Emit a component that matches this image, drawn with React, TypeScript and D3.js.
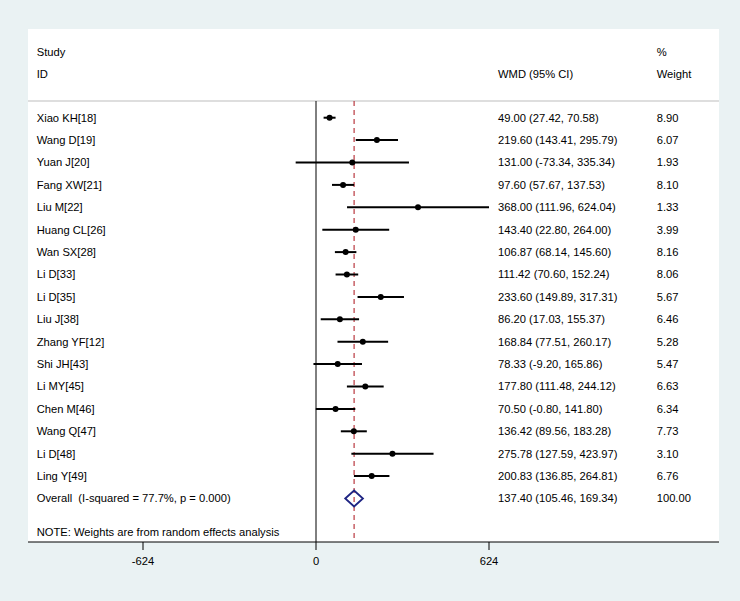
import React from "react";
import * as d3 from "d3";

const studies = ["Xiao KH[18]", "Wang D[19]", "Yuan J[20]", "Fang XW[21]", "Liu M[22]", "Huang CL[26]", "Wan SX[28]", "Li D[33]", "Li D[35]", "Liu J[38]", "Zhang YF[12]", "Shi JH[43]", "Li MY[45]", "Chen M[46]", "Wang Q[47]", "Li D[48]", "Ling Y[49]"];
const wmd = [49.0, 219.6, 131.0, 97.6, 368.0, 143.4, 106.87, 111.42, 233.6, 86.2, 168.84, 78.33, 177.8, 70.5, 136.42, 275.78, 200.83];
const lower = [27.42, 143.41, -73.34, 57.67, 111.96, 22.8, 68.14, 70.6, 149.89, 17.03, 77.51, -9.2, 111.48, -0.8, 89.56, 127.59, 136.85];
const upper = [70.58, 295.79, 335.34, 137.53, 624.04, 264.0, 145.6, 152.24, 317.31, 155.37, 260.17, 165.86, 244.12, 141.8, 183.28, 423.97, 264.81];
const weights = ["8.90", "6.07", "1.93", "8.10", "1.33", "3.99", "8.16", "8.06", "5.67", "6.46", "5.28", "5.47", "6.63", "6.34", "7.73", "3.10", "6.76"];
const overallLabel = "Overall  (I-squared = 77.7%, p = 0.000)";
const overall = { est: 137.4, lo: 105.46, hi: 169.34, weight: "100.00" };
const ticks = [-624, 0, 624];

const fmt = (v: number) => v.toFixed(2);

export default function App() {
  const W = 740, H = 601;
  const x = d3.scaleLinear().domain([-624, 624]).range([143, 489]);
  const y = d3.scaleLinear().domain([0, 17]).range([117.7, 498.5]);
  const font = "'Liberation Sans', Arial, sans-serif";
  const fs = 11.2;
  const txt = "#000";
  const panel = { l: 28, r: 719, t: 29, b: 542 };
  const headerY = 101;
  const colStudy = 36.7, colWmd = 498, colW = 656.7;
  const diamondH = 8;
  const dpath = `M${x(overall.lo)},${y(17)} L${x(overall.est)},${y(17) - diamondH} L${x(overall.hi)},${y(17)} L${x(overall.est)},${y(17) + diamondH} Z`;
  return (
    <svg width={W} height={H} style={{ position: "absolute", left: 0, top: 0 }} fontFamily={font} fontSize={fs}>
      <rect x={0} y={0} width={W} height={H} fill="rgb(234,242,243)" />
      <rect x={panel.l} y={panel.t} width={panel.r - panel.l} height={panel.b - panel.t} fill="#fff" />
      <text x={colStudy} y={51.7} dy="0.35em" fill={txt}>Study</text>
      <text x={colStudy} y={74.5} dy="0.35em" fill={txt}>ID</text>
      <text x={colWmd} y={74.5} dy="0.35em" fill={txt}>WMD (95% CI)</text>
      <text x={colW} y={52.5} dy="0.35em" fill={txt}>%</text>
      <text x={colW} y={74.5} dy="0.35em" fill={txt}>Weight</text>
      <line x1={panel.l} x2={panel.r} y1={headerY} y2={headerY} stroke="#bdbdbd" strokeWidth={1} />
      <line x1={x(0)} x2={x(0)} y1={headerY} y2={panel.b} stroke="#000" strokeWidth={1} />
      <line x1={x(overall.est)} x2={x(overall.est)} y1={headerY} y2={panel.b} stroke="#b3262e" strokeWidth={1.1} strokeDasharray="5,4" />
      {studies.map((s, i) => (
        <g key={i}>
          <text x={colStudy} y={y(i)} dy="0.35em" fill={txt}>{s}</text>
          <line x1={x(lower[i])} x2={x(upper[i])} y1={y(i)} y2={y(i)} stroke="#000" strokeWidth={2} />
          <circle cx={x(wmd[i])} cy={y(i)} r={3} fill="#000" />
          <text x={colWmd} y={y(i)} dy="0.35em" fill={txt}>{`${fmt(wmd[i])} (${fmt(lower[i])}, ${fmt(upper[i])})`}</text>
          <text x={colW} y={y(i)} dy="0.35em" fill={txt}>{weights[i]}</text>
        </g>
      ))}
      <text x={colStudy} y={y(17)} dy="0.35em" fill={txt} style={{ whiteSpace: "pre" }}>{overallLabel}</text>
      <path d={dpath} fill="none" stroke="#1e2483" strokeWidth={1.8} />
      <text x={colWmd} y={y(17)} dy="0.35em" fill={txt}>{`${fmt(overall.est)} (${fmt(overall.lo)}, ${fmt(overall.hi)})`}</text>
      <text x={colW} y={y(17)} dy="0.35em" fill={txt}>{overall.weight}</text>
      <text x={colStudy} y={531.7} dy="0.35em" fill={txt}>NOTE: Weights are from random effects analysis</text>
      <line x1={panel.l} x2={panel.r} y1={panel.b} y2={panel.b} stroke="#000" strokeWidth={1} />
      {ticks.map((t) => (
        <g key={t}>
          <line x1={x(t)} x2={x(t)} y1={panel.b} y2={panel.b + 8} stroke="#000" strokeWidth={1} />
          <text x={x(t)} y={561.5} dy="0.35em" textAnchor="middle" fill={txt}>{t}</text>
        </g>
      ))}
    </svg>
  );
}
